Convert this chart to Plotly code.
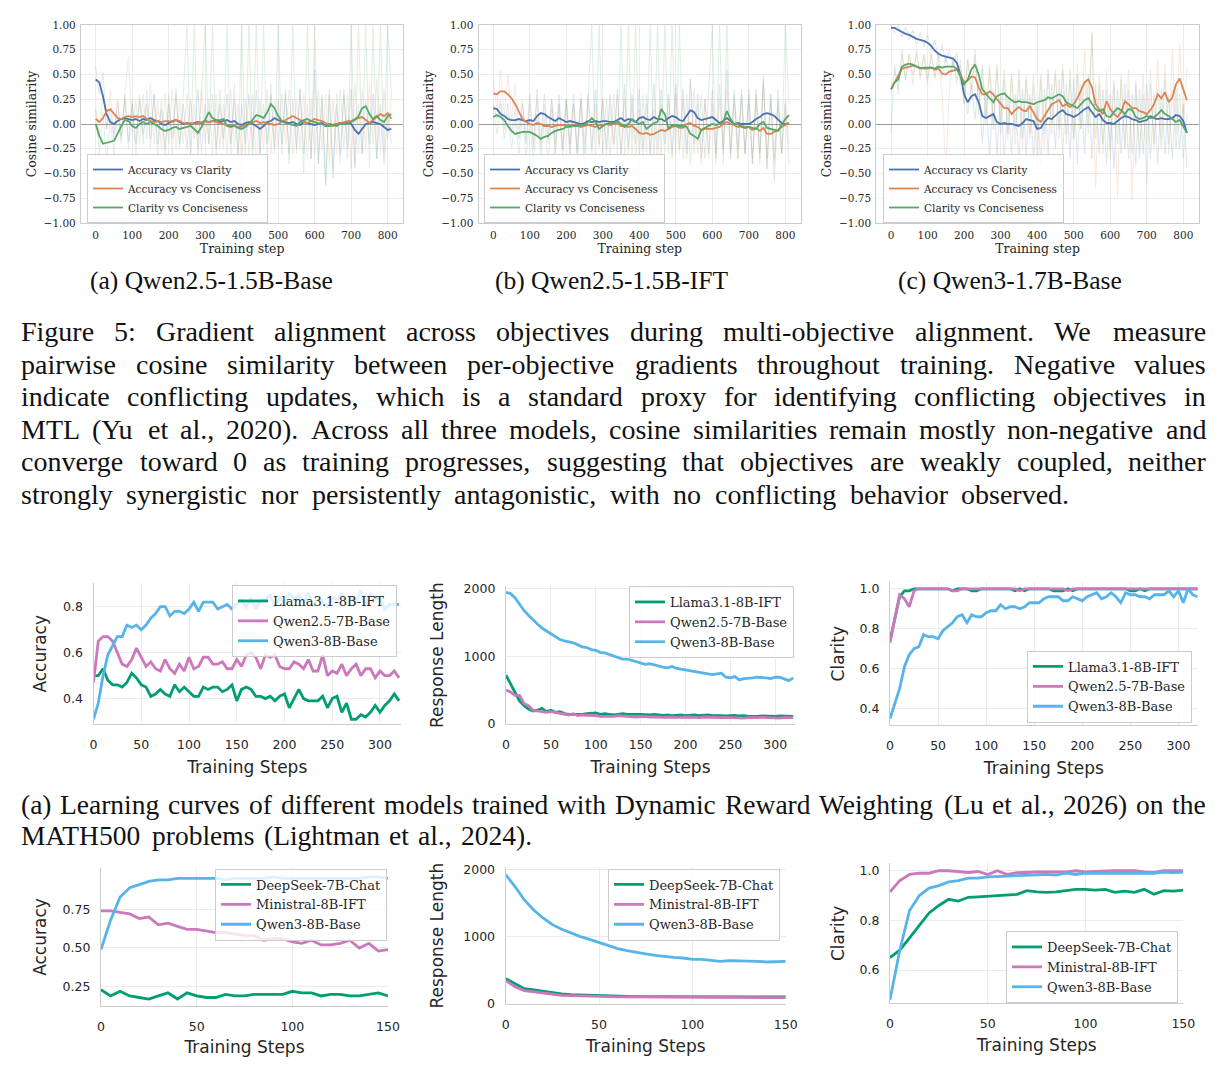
import plotly.graph_objects as go

W, H = 1222, 1076

# ============================ DATA ============================
# ---- Figure 5: gradient cosine similarity (sampled every 10 steps) ----
TOP_PAIR_NAMES = ["Accuracy vs Clarity", "Accuracy vs Conciseness", "Clarity vs Conciseness"]
TOP_PANEL_LABELS = ["(a) Qwen2.5-1.5B-Base", "(b) Qwen2.5-1.5B-IFT", "(c) Qwen3-1.7B-Base"]
TOP_STEP = 10
TOP_XTICKS = [0, 100, 200, 300, 400, 500, 600, 700, 800]
TOP_YTICKS = [-1.0, -0.75, -0.5, -0.25, 0.0, 0.25, 0.5, 0.75, 1.0]

# smoothed curves
base_acc_clar = [0.45, 0.42, 0.28, 0.10, 0.02, 0.00, 0.03, 0.05, 0.06, 0.05,
                 0.04, 0.05, 0.03, 0.05, 0.04, 0.06, 0.04, 0.03, 0.00, -0.01,
                 0.01, 0.03, 0.04, 0.02, 0.00, 0.01, 0.00, 0.01, 0.02, 0.01,
                 0.03, 0.02, 0.03, 0.04, 0.02, 0.03, 0.04, 0.02, 0.03, 0.00,
                 -0.01, 0.01, 0.02, 0.00, -0.02, -0.05, -0.02, 0.02, 0.03, 0.06,
                 0.04, 0.03, 0.02, 0.01, 0.02, 0.00, -0.01, 0.02, 0.01, 0.00,
                 -0.01, 0.00, 0.01, -0.02, 0.00, -0.01, 0.00, 0.01, 0.00, 0.02,
                 0.00, -0.06, -0.10, -0.05, 0.00, 0.01, 0.02, 0.01, 0.00, -0.03,
                 -0.06, -0.05]
base_acc_conc = [0.05, 0.02, 0.06, 0.13, 0.15, 0.10, 0.06, 0.05, 0.07, 0.08,
                 0.07, 0.08, 0.07, 0.08, 0.05, 0.03, 0.02, 0.03, 0.02, 0.03,
                 0.03, 0.02, 0.04, 0.03, 0.01, 0.00, 0.01, 0.00, 0.01, 0.02,
                 0.03, 0.02, 0.03, 0.02, 0.01, 0.00, -0.01, -0.02, -0.02, -0.03,
                 -0.03, -0.01, 0.00, 0.02, 0.03, 0.01, 0.02, 0.00, 0.00, -0.01,
                 0.00, 0.02, 0.04, 0.06, 0.08, 0.06, 0.04, 0.02, 0.01, 0.03,
                 0.05, 0.04, 0.03, 0.01, -0.01, -0.02, 0.00, 0.01, 0.02, 0.03,
                 0.03, 0.05, 0.06, 0.07, 0.04, 0.01, 0.04, 0.07, 0.10, 0.08,
                 0.11, 0.05]
base_clar_conc = [0.00, -0.12, -0.20, -0.19, -0.18, -0.17, -0.10, -0.02, 0.04, 0.03,
                  -0.02, -0.04, 0.00, 0.02, 0.00, 0.02, 0.00, -0.02, -0.05, -0.07,
                  -0.06, -0.04, -0.03, -0.05, -0.04, -0.03, -0.02, -0.05, -0.09, -0.03,
                  0.05, 0.12, 0.06, 0.04, 0.04, 0.05, -0.02, -0.03, -0.02, -0.04,
                  -0.05, -0.03, 0.00, 0.05, 0.09, 0.08, 0.06, 0.12, 0.20, 0.16,
                  0.08, 0.03, 0.01, 0.00, -0.01, -0.02, 0.02, 0.04, 0.05, 0.03,
                  0.02, 0.01, 0.00, -0.02, -0.02, -0.01, -0.02, 0.00, 0.00, 0.01,
                  0.02, 0.04, 0.08, 0.16, 0.18, 0.10, 0.05, 0.08, 0.04, 0.02,
                  0.08, 0.10]
ift_acc_clar = [0.16, 0.15, 0.10, 0.08, 0.05, 0.04, 0.04, 0.05, 0.04, 0.03,
                0.04, 0.03, 0.08, 0.11, 0.10, 0.07, 0.05, 0.03, 0.06, 0.04,
                0.02, 0.03, 0.02, 0.01, 0.00, 0.01, 0.03, 0.02, 0.03, 0.02,
                0.03, 0.03, 0.02, 0.02, 0.04, 0.06, 0.03, 0.05, 0.04, 0.02,
                0.06, 0.07, 0.05, 0.04, 0.07, 0.05, 0.05, 0.03, 0.06, 0.08,
                0.07, 0.04, 0.03, 0.08, 0.14, 0.12, 0.06, 0.04, 0.05, 0.06,
                0.07, 0.04, 0.01, 0.03, 0.06, 0.03, 0.00, 0.01, 0.00, 0.00,
                0.00, 0.02, 0.05, 0.07, 0.10, 0.11, 0.10, 0.08, 0.04, 0.01,
                0.00, 0.01]
ift_acc_conc = [0.31, 0.30, 0.33, 0.33, 0.30, 0.26, 0.20, 0.12, 0.05, 0.02,
                0.00, -0.01, 0.01, 0.00, -0.02, -0.02, -0.03, -0.02, -0.01, -0.01,
                -0.02, -0.02, -0.01, -0.02, -0.03, -0.02, -0.01, -0.02, -0.03, -0.01,
                -0.01, 0.00, -0.01, 0.00, 0.01, -0.02, -0.02, -0.03, -0.02, -0.05,
                -0.09, -0.10, -0.09, -0.11, -0.10, -0.08, -0.06, -0.07, -0.05, -0.03,
                -0.02, -0.04, -0.04, 0.00, 0.01, -0.02, -0.03, -0.06, -0.05, -0.05,
                -0.05, -0.04, -0.03, 0.00, 0.02, 0.00, -0.01, -0.03, -0.02, -0.03,
                -0.03, -0.06, -0.04, -0.07, -0.04, -0.10, -0.10, -0.08, -0.06, -0.03,
                -0.01, 0.01]
ift_clar_conc = [0.07, 0.09, 0.07, 0.04, -0.02, -0.07, -0.10, -0.09, -0.08, -0.08,
                 -0.08, -0.10, -0.12, -0.15, -0.13, -0.12, -0.09, -0.07, -0.06, -0.05,
                 -0.03, -0.03, -0.02, -0.02, -0.01, -0.01, 0.02, 0.06, 0.02, -0.05,
                 -0.02, 0.00, 0.01, 0.01, 0.03, 0.00, -0.03, 0.00, 0.05, 0.02,
                 0.00, 0.02, -0.05, -0.02, 0.01, 0.02, 0.15, 0.10, -0.05, -0.01,
                 -0.02, -0.02, -0.02, -0.03, -0.10, -0.12, -0.15, -0.06, -0.04, -0.02,
                 0.00, -0.01, 0.00, 0.02, 0.13, 0.05, 0.00, 0.00, -0.03, -0.04,
                 -0.03, -0.04, -0.05, 0.00, 0.02, -0.04, -0.05, -0.06, -0.07, -0.01,
                 0.05, 0.09]
q3_acc_clar = [0.97, 0.97, 0.95, 0.93, 0.91, 0.90, 0.88, 0.86, 0.85, 0.84,
               0.82, 0.79, 0.74, 0.71, 0.69, 0.68, 0.67, 0.66, 0.62, 0.50,
               0.30, 0.22, 0.28, 0.30, 0.22, 0.08, 0.06, 0.08, 0.10, 0.02,
               0.00, 0.01, 0.00, 0.00, -0.01, -0.02, 0.01, 0.05, 0.04, 0.03,
               -0.05, -0.04, 0.02, 0.06, 0.05, 0.09, 0.12, 0.14, 0.10, 0.09,
               0.07, 0.09, 0.12, 0.15, 0.17, 0.12, 0.07, 0.10, 0.04, 0.01,
               0.01, 0.00, 0.03, 0.06, 0.08, 0.07, 0.05, 0.04, 0.02, 0.03,
               0.04, 0.08, 0.06, 0.05, 0.06, 0.05, 0.05, 0.06, 0.09, 0.08,
               0.03, -0.09]
q3_acc_conc = [0.35, 0.42, 0.50, 0.56, 0.57, 0.58, 0.59, 0.58, 0.57, 0.56,
               0.56, 0.57, 0.55, 0.56, 0.51, 0.50, 0.53, 0.54, 0.55, 0.50,
               0.42, 0.44, 0.48, 0.47, 0.37, 0.30, 0.30, 0.33, 0.30, 0.25,
               0.20, 0.16, 0.16, 0.10, 0.14, 0.17, 0.14, 0.13, 0.18, 0.12,
               0.05, 0.02, 0.08, 0.15, 0.20, 0.22, 0.24, 0.18, 0.20, 0.17,
               0.20, 0.26, 0.35, 0.42, 0.45, 0.37, 0.20, 0.15, 0.10, 0.23,
               0.15, 0.10, 0.07, 0.12, 0.23, 0.20, 0.16, 0.16, 0.13, 0.12,
               0.10, 0.14, 0.20, 0.30, 0.26, 0.32, 0.22, 0.27, 0.40, 0.46,
               0.36, 0.24]
q3_clar_conc = [0.35, 0.42, 0.45, 0.58, 0.60, 0.61, 0.60, 0.58, 0.56, 0.57,
                0.57, 0.57, 0.56, 0.58, 0.57, 0.58, 0.58, 0.58, 0.56, 0.48,
                0.40, 0.45, 0.55, 0.60, 0.50, 0.35, 0.30, 0.26, 0.22, 0.28,
                0.30, 0.31, 0.27, 0.24, 0.22, 0.23, 0.22, 0.22, 0.21, 0.20,
                0.22, 0.23, 0.24, 0.27, 0.26, 0.28, 0.30, 0.28, 0.22, 0.20,
                0.18, 0.16, 0.20, 0.24, 0.26, 0.20, 0.15, 0.13, 0.15, 0.08,
                0.07, 0.12, 0.16, 0.14, 0.10, 0.15, 0.14, 0.07, 0.05, 0.06,
                0.08, 0.06, 0.07, 0.10, 0.14, 0.10, 0.08, 0.05, 0.02, 0.04,
                -0.02, -0.09]

# raw (unsmoothed) per-step values, faint in the figure
base_acc_clar_raw = [0.58, 0.30, 0.52, -0.05, 0.15, -0.15, 0.22, -0.12, 0.25, -0.18,
                     0.20, -0.20, 0.25, -0.10, 0.20, -0.15, 0.30, -0.20, 0.15, -0.25,
                     0.20, -0.15, 0.30, -0.20, 0.20, -0.25, 0.25, -0.15, 0.35, -0.30,
                     0.20, -0.20, 0.30, -0.25, 0.20, -0.15, 0.30, -0.20, 0.25, -0.30,
                     0.20, -0.20, 0.30, -0.25, 0.35, -0.30, 0.20, -0.20, 0.30, -0.25,
                     0.25, -0.20, 0.30, -0.30, 0.25, -0.25, 0.35, -0.30, 0.20, -0.35,
                     0.55, -0.40, 0.25, -0.62, 0.30, -0.55, 0.20, -0.30, 0.30, -0.25,
                     0.35, -0.45, 0.20, -0.30, 0.25, -0.20, 0.30, -0.35, 0.20, -0.40,
                     0.10, -0.20]
base_acc_conc_raw = [0.15, -0.10, 0.30, -0.05, 0.35, -0.10, 0.25, -0.15, 0.30, 0.68,
                     -0.10, 0.25, -0.20, 0.30, -0.15, 0.40, -0.20, 0.25, -0.25, 0.30,
                     -0.20, 0.35, -0.25, 0.25, -0.20, 0.30, -0.30, 0.20, -0.25, 0.35,
                     -0.20, 0.25, -0.30, 0.30, -0.25, 0.20, -0.30, 0.35, -0.25, 0.20,
                     -0.35, 0.25, -0.30, 0.30, -0.40, 0.25, -0.25, 0.35, -0.30, 0.25,
                     -0.25, 0.30, -0.20, 0.35, -0.30, 0.25, -0.25, 0.30, -0.35, 0.25,
                     -0.30, 0.35, -0.25, 0.30, -0.40, 0.25, -0.30, 0.35, -0.25, 0.30,
                     -0.45, 0.40, -0.30, 0.35, -0.25, 0.40, -0.20, 0.45, -0.30, 0.35,
                     -0.15, 0.30]
base_clar_conc_raw = [0.15, -0.30, 0.10, -0.35, 0.05, -0.30, 0.10, -0.20, 0.30, -0.25,
                      0.25, -0.30, 0.30, -0.20, 0.35, -0.25, 0.30, -0.30, 0.25, -0.35,
                      0.30, -0.30, 0.35, -0.25, 0.30, 1.00, -0.30, 1.00, -0.35, 0.30,
                      1.00, -0.20, 1.00, -0.30, 0.35, -0.25, 1.00, -0.30, 0.40, -0.35,
                      1.00, -0.30, 1.00, -0.35, 1.00, -0.30, 1.00, -0.35, 0.40, -0.30,
                      1.00, -0.30, 0.35, -0.40, 1.00, -0.30, 0.35, -0.50, 1.00, -0.35,
                      1.00, -0.40, 0.30, -0.60, 0.35, -0.45, 0.30, -0.40, 0.35, -0.35,
                      1.00, -0.40, 1.00, -0.30, 1.00, -0.45, 1.00, -0.35, 1.00, -0.30,
                      1.00, 0.30]
ift_acc_clar_raw = [0.20, 0.05, 0.25, -0.05, 0.20, -0.10, 0.15, -0.15, 0.20, -0.20,
                    0.30, -0.25, 0.35, -0.20, 0.30, -0.15, 0.25, -0.20, 0.30, -0.25,
                    0.25, -0.20, 0.30, -0.30, 0.25, -0.50, 0.30, -0.25, 0.35, -0.20,
                    0.25, -0.25, 0.30, -0.20, 0.35, -0.30, 0.40, -0.25, 0.30, -0.20,
                    0.35, -0.25, 0.30, -0.30, 0.40, -0.25, 0.35, -0.20, 0.30, -0.30,
                    0.40, -0.25, 0.35, -0.30, 0.45, -0.20, 0.30, -0.35, 0.25, -0.30,
                    0.35, -0.30, 0.40, -0.25, 0.55, -0.35, 0.30, -0.25, 0.35, -0.30,
                    0.30, -0.40, 0.35, -0.30, 0.45, -0.35, 0.30, -0.58, 0.25, -0.30,
                    0.20, -0.40]
ift_acc_conc_raw = [0.45, 0.15, 0.55, 0.10, 0.50, 0.05, 0.40, -0.05, 0.25, -0.15,
                    0.20, -0.20, 0.25, -0.25, 0.20, -0.20, 0.25, -0.30, 0.20, -0.25,
                    0.25, -0.30, 0.20, -0.25, 0.30, -0.20, 0.25, -0.30, 0.20, -0.25,
                    0.25, -0.30, 0.20, -0.25, 0.30, -0.35, 0.25, -0.30, 0.20, -0.35,
                    0.15, -0.35, 0.20, -0.30, 0.15, -0.40, 0.20, -0.30, 0.25, -0.35,
                    0.30, -0.30, 0.25, -0.35, 0.45, -0.30, 0.20, -0.40, 0.25, -0.35,
                    0.20, -0.40, 0.25, -0.30, 0.35, -0.30, 0.20, -0.35, 0.25, -0.30,
                    0.20, -0.35, 0.25, -0.40, 0.50, -0.45, 0.25, -0.35, 0.20, -0.30,
                    0.25, -0.20]
ift_clar_conc_raw = [0.15, -0.10, 0.20, -0.15, 0.10, -0.25, 0.05, -0.30, 0.10, -0.35,
                     0.05, -0.40, 0.10, -0.35, 0.05, -0.40, 0.15, -0.30, 0.20, -0.35,
                     0.25, -0.30, 0.20, -0.35, 0.25, -0.30, 0.30, 1.00, -0.40, 1.00,
                     -0.30, 0.25, -0.35, 0.30, -0.30, 1.00, -0.35, 1.00, -0.30, 1.00,
                     -0.35, 0.30, -0.30, 1.00, -0.40, 1.00, -0.35, 1.00, -0.30, 1.00,
                     -0.30, 1.00, -0.35, 0.30, -0.40, 0.35, -0.30, 0.30, -0.35, 0.40,
                     1.00, -0.35, 1.00, -0.40, 1.00, -0.30, 0.35, -0.35, 0.30, -0.30,
                     0.35, -0.40, 0.30, -0.35, 0.40, -0.45, 0.30, -0.40, 0.35, -0.30,
                     1.00, 0.20]
q3_acc_clar_raw = [1.00, 0.92, 1.00, 0.88, 0.98, 0.85, 0.95, 0.80, 0.92, 0.78,
                   0.90, 0.75, 0.85, 0.65, 0.80, 0.62, 0.75, 0.58, 0.72, 0.40,
                   0.45, 0.10, 0.40, 0.05, 0.45, -0.20, 0.30, -0.35, 0.35, -0.30,
                   0.30, -0.35, 0.25, -0.30, 0.30, -0.40, 0.35, -0.30, 0.30, -0.35,
                   0.20, -0.40, 0.35, -0.30, 0.40, -0.25, 0.45, -0.30, 0.40, -0.35,
                   0.45, -0.40, 0.40, -0.30, 0.50, -0.35, 0.40, -0.30, 0.35, -0.40,
                   0.30, -0.45, 0.35, -0.30, 0.40, -0.35, 0.30, -0.40, 0.35, -0.30,
                   0.40, -0.35, 0.30, -0.40, 0.35, -0.30, 0.30, -0.35, 0.35, -0.25,
                   0.20, -0.45]
q3_acc_conc_raw = [0.30, 0.55, 0.35, 0.70, 0.45, 0.72, 0.40, 0.75, 0.45, 0.70,
                   0.40, 0.72, 0.45, 0.65, 0.30, -0.45, 0.35, 0.65, 0.40, 0.65,
                   0.20, 0.65, 0.25, 0.70, 0.20, 0.55, 0.05, 0.60, 0.00, 0.55,
                   -0.10, 0.45, -0.15, 0.50, -0.20, 0.45, -0.25, 0.50, -0.15, 0.40,
                   -0.35, 0.45, -0.25, 0.50, -0.10, 0.55, -0.15, 0.60, -0.20, 0.55,
                   -0.15, 0.60, -0.05, 0.75, 0.00, 0.93, -0.65, 0.50, -0.30, 0.55,
                   -0.35, 0.45, -0.75, 0.50, -0.25, 0.55, -0.76, 0.45, -0.30, 0.50,
                   -0.20, 0.55, -0.25, 0.65, -0.15, 0.60, -0.20, 0.75, -0.10, 0.80,
                   0.00, 0.55]
q3_clar_conc_raw = [-0.10, 0.60, 0.30, 0.75, 0.45, 0.70, 0.50, 0.72, 0.48, 0.70,
                    0.45, 0.70, 0.48, 0.72, 0.45, 0.70, 0.48, 0.65, 0.45, 0.60,
                    0.20, 0.65, 0.35, 0.75, 0.10, 0.60, 0.00, 0.55, -0.05, 0.60,
                    0.00, 0.55, -0.10, 0.50, -0.05, 0.55, -0.15, 0.45, -0.10, 0.50,
                    -0.05, 0.50, -0.10, 0.55, 0.00, 0.50, -0.05, 0.55, -0.10, 0.45,
                    -0.15, 0.50, -0.05, 0.45, -0.10, 0.90, -0.15, 0.40, -0.20, 0.35,
                    -0.25, 0.40, -0.20, 0.45, -0.25, 0.35, -0.30, 0.40, -0.35, 0.30,
                    -0.60, 0.40, -0.20, 0.35, -0.25, 0.45, -0.30, 0.35, -0.25, 0.30,
                    -0.35, 0.10]

# ---- Learning curves (sampled every 5 steps) ----
CURVE_STEP = 5
MODELS_A = ["Llama3.1-8B-IFT", "Qwen2.5-7B-Base", "Qwen3-8B-Base"]
MODELS_B = ["DeepSeek-7B-Chat", "Ministral-8B-IFT", "Qwen3-8B-Base"]
X_TICKS_A = [0, 50, 100, 150, 200, 250, 300]
X_TICKS_B = [0, 50, 100, 150]

acc_a_llama = [0.50, 0.50, 0.53, 0.48, 0.46, 0.46, 0.45, 0.47, 0.51, 0.49,
               0.46, 0.45, 0.41, 0.42, 0.44, 0.42, 0.41, 0.46, 0.43, 0.45,
               0.43, 0.41, 0.41, 0.45, 0.44, 0.45, 0.45, 0.43, 0.44, 0.46,
               0.39, 0.44, 0.45, 0.44, 0.41, 0.41, 0.40, 0.41, 0.39, 0.41,
               0.42, 0.36, 0.40, 0.44, 0.40, 0.39, 0.39, 0.39, 0.41, 0.36,
               0.40, 0.41, 0.34, 0.38, 0.31, 0.31, 0.33, 0.32, 0.34, 0.37,
               0.34, 0.37, 0.39, 0.42, 0.39]
acc_a_qwen25 = [0.47, 0.65, 0.67, 0.67, 0.65, 0.60, 0.55, 0.54, 0.57, 0.62,
                0.58, 0.54, 0.56, 0.53, 0.52, 0.57, 0.53, 0.51, 0.55, 0.52,
                0.58, 0.53, 0.54, 0.58, 0.58, 0.55, 0.55, 0.56, 0.53, 0.53,
                0.57, 0.54, 0.59, 0.60, 0.58, 0.53, 0.59, 0.58, 0.59, 0.54,
                0.53, 0.53, 0.56, 0.55, 0.53, 0.57, 0.52, 0.52, 0.59, 0.50,
                0.52, 0.51, 0.55, 0.50, 0.53, 0.55, 0.50, 0.53, 0.53, 0.49,
                0.52, 0.50, 0.50, 0.52, 0.49]
acc_a_qwen3 = [0.31, 0.38, 0.50, 0.59, 0.63, 0.67, 0.67, 0.72, 0.71, 0.72,
               0.70, 0.72, 0.75, 0.77, 0.80, 0.80, 0.76, 0.78, 0.78, 0.77,
               0.79, 0.82, 0.78, 0.82, 0.82, 0.82, 0.79, 0.80, 0.81, 0.79,
               0.81, 0.83, 0.80, 0.84, 0.79, 0.83, 0.83, 0.85, 0.80, 0.84,
               0.81, 0.86, 0.83, 0.85, 0.82, 0.86, 0.80, 0.84, 0.82, 0.80,
               0.84, 0.83, 0.86, 0.81, 0.84, 0.82, 0.87, 0.80, 0.86, 0.83,
               0.84, 0.79, 0.81, 0.81, 0.81]
len_a_llama = [720, 600, 470, 340, 270, 220, 190, 200, 230, 180,
               200, 170, 180, 150, 140, 140, 130, 140, 150, 150,
               160, 140, 150, 140, 130, 140, 150, 140, 135, 140,
               140, 135, 130, 140, 130, 125, 130, 120, 125, 130,
               120, 125, 130, 120, 125, 130, 120, 125, 120, 115,
               120, 125, 115, 120, 110, 105, 110, 115, 110, 115,
               110, 115, 110, 115, 110]
len_a_qwen25 = [500, 470, 420, 420, 300, 270, 200, 190, 180, 170,
                180, 170, 160, 140, 130, 150, 120, 130, 130, 120,
                120, 110, 110, 100, 110, 120, 115, 105, 110, 100,
                105, 110, 100, 105, 100, 95, 100, 100, 95, 100,
                95, 100, 95, 90, 100, 95, 90, 95, 90, 95,
                90, 95, 90, 85, 90, 85, 90, 95, 90, 85,
                90, 85, 90, 85, 90]
len_a_qwen3 = [1950, 1930, 1870, 1780, 1680, 1610, 1540, 1480, 1420, 1380,
               1330, 1290, 1250, 1230, 1220, 1200, 1170, 1140, 1130, 1100,
               1090, 1060, 1050, 1030, 1000, 980, 960, 960, 940, 920,
               900, 880, 890, 870, 850, 840, 830, 850, 820, 810,
               790, 790, 770, 760, 760, 740, 730, 740, 750, 690,
               680, 700, 650, 670, 670, 680, 690, 690, 680, 670,
               690, 690, 670, 640, 680]
clar_a_llama = [0.74, 0.85, 0.96, 0.99, 0.99, 1.0, 1.0, 1.0, 1.0, 1.0,
                1.0, 1.0, 1.0, 0.99, 1.0, 1.0, 1.0, 0.99, 0.99, 1.0,
                1.0, 1.0, 1.0, 1.0, 1.0, 1.0, 0.99, 1.0, 0.99, 1.0,
                1.0, 1.0, 1.0, 1.0, 0.99, 0.99, 0.99, 1.0, 0.99, 1.0,
                1.0, 1.0, 1.0, 1.0, 1.0, 1.0, 1.0, 1.0, 1.0, 1.0,
                0.99, 0.99, 1.0, 0.99, 1.0, 1.0, 1.0, 1.0, 1.0, 1.0,
                1.0, 1.0, 1.0, 1.0, 1.0]
clar_a_qwen25 = [0.73, 0.86, 0.97, 0.95, 0.91, 0.99, 1.0, 1.0, 1.0, 1.0,
                 1.0, 1.0, 1.0, 0.99, 0.99, 1.0, 1.0, 1.0, 1.0, 1.0,
                 1.0, 1.0, 1.0, 1.0, 1.0, 1.0, 1.0, 0.99, 1.0, 1.0,
                 1.0, 1.0, 1.0, 1.0, 1.0, 1.0, 1.0, 0.99, 1.0, 1.0,
                 1.0, 1.0, 1.0, 1.0, 1.0, 1.0, 1.0, 1.0, 1.0, 1.0,
                 1.0, 1.0, 1.0, 1.0, 1.0, 1.0, 1.0, 1.0, 1.0, 1.0,
                 1.0, 1.0, 1.0, 1.0, 1.0]
clar_a_qwen3 = [0.35, 0.42, 0.50, 0.61, 0.67, 0.70, 0.71, 0.77, 0.76, 0.76,
                0.75, 0.79, 0.81, 0.83, 0.86, 0.87, 0.83, 0.87, 0.86, 0.86,
                0.88, 0.89, 0.89, 0.92, 0.90, 0.91, 0.91, 0.90, 0.91, 0.93,
                0.93, 0.93, 0.95, 0.96, 0.96, 0.96, 0.94, 0.94, 0.96, 0.95,
                0.94, 0.96, 0.97, 0.98, 0.95, 0.96, 0.98, 0.96, 0.93, 0.98,
                0.97, 0.97, 0.96, 0.96, 0.95, 0.97, 0.97, 0.97, 0.99, 0.96,
                0.99, 0.93, 1.00, 0.97, 0.96]

acc_b_deepseek = [0.23, 0.19, 0.22, 0.19, 0.18, 0.17, 0.19, 0.21, 0.17, 0.21,
                  0.19, 0.18, 0.18, 0.20, 0.19, 0.19, 0.20, 0.20, 0.20, 0.20,
                  0.22, 0.21, 0.21, 0.19, 0.20, 0.20, 0.19, 0.19, 0.20, 0.21,
                  0.19]
acc_b_ministral = [0.74, 0.74, 0.73, 0.72, 0.69, 0.70, 0.65, 0.66, 0.64, 0.62,
                   0.62, 0.61, 0.60, 0.60, 0.59, 0.58, 0.58, 0.55, 0.56, 0.56,
                   0.54, 0.53, 0.55, 0.52, 0.52, 0.53, 0.55, 0.50, 0.53, 0.48,
                   0.49]
acc_b_qwen3 = [0.49, 0.68, 0.83, 0.89, 0.91, 0.93, 0.94, 0.94, 0.95, 0.95,
               0.95, 0.95, 0.95, 0.94, 0.95, 0.95, 0.95, 0.95, 0.96, 0.95,
               0.95, 0.95, 0.95, 0.95, 0.95, 0.95, 0.95, 0.95, 0.96, 0.96,
               0.95]
len_b_deepseek = [370, 300, 220, 200, 180, 150, 140, 130, 125, 120,
                  110, 108, 105, 103, 100, 100, 100, 100, 100, 100,
                  100, 100, 100, 98, 98, 98, 98, 98, 98, 98,
                  98]
len_b_ministral = [340, 250, 190, 170, 150, 130, 120, 115, 110, 105,
                   100, 100, 98, 97, 96, 95, 95, 94, 93, 92,
                   92, 91, 90, 90, 89, 88, 88, 87, 86, 86,
                   85]
len_b_qwen3 = [1930, 1750, 1550, 1400, 1280, 1180, 1110, 1050, 1000, 960,
               910, 860, 820, 790, 760, 740, 720, 700, 690, 680,
               660, 660, 650, 630, 640, 640, 630, 630, 620, 630,
               630]
clar_b_deepseek = [0.65, 0.68, 0.73, 0.78, 0.83, 0.86, 0.885, 0.878, 0.893, 0.895,
                   0.897, 0.90, 0.903, 0.905, 0.92, 0.915, 0.913, 0.915, 0.92, 0.925,
                   0.925, 0.922, 0.925, 0.913, 0.918, 0.913, 0.925, 0.905, 0.92, 0.918,
                   0.922]
clar_b_ministral = [0.915, 0.96, 0.985, 0.99, 0.99, 1.0, 1.0, 0.995, 0.993, 0.997,
                    0.985, 1.0, 0.985, 0.992, 0.995, 0.995, 0.995, 0.995, 0.995, 1.0,
                    0.995, 0.997, 1.0, 1.0, 1.0, 1.0, 0.995, 0.993, 1.0, 1.0,
                    1.0]
clar_b_qwen3 = [0.48, 0.68, 0.84, 0.90, 0.93, 0.94, 0.955, 0.96, 0.97, 0.97,
                0.975, 0.975, 0.978, 0.98, 0.98, 0.983, 0.985, 0.982, 0.99, 0.985,
                0.99, 0.99, 0.988, 0.99, 0.988, 0.99, 0.99, 0.99, 0.995, 0.993,
                0.995]

# ---- text ----
FIG5_CAPTION = [
    "Figure 5: Gradient alignment across objectives during multi-objective alignment. We measure",
    "pairwise cosine similarity between per-objective gradients throughout training. Negative values",
    "indicate conflicting updates, which is a standard proxy for identifying conflicting objectives in",
    "MTL (Yu et al., 2020). Across all three models, cosine similarities remain mostly non-negative and",
    "converge toward 0 as training progresses, suggesting that objectives are weakly coupled, neither",
    "strongly synergistic nor persistently antagonistic, with no conflicting behavior observed.",
]
SUBFIG_A_CAPTION = [
    "(a) Learning curves of different models trained with Dynamic Reward Weighting (Lu et al., 2026) on the",
    "MATH500 problems (Lightman et al., 2024).",
]

# ============================ STYLE ============================
TOP_COLORS = ["#4C72B0", "#DD8452", "#55A868"]
MODEL_COLORS = ["#029E73", "#CC78BC", "#56B4E9"]
INK = "#262626"
SERIF_PLOT = "DejaVu Serif"
SANS_PLOT = "DejaVu Sans"
TEXT_FONT = "Liberation Serif"


def px_x(l, r):
    return [l / W, r / W]


def px_y(t, b):
    return [1 - b / H, 1 - t / H]


def ax_keys(i):
    s = "" if i == 1 else str(i)
    return "x" + s, "y" + s, "xaxis" + s, "yaxis" + s, "legend" + s


fig = go.Figure()
layout = dict(
    width=W, height=H, margin=dict(l=0, r=0, t=0, b=0),
    paper_bgcolor="white", plot_bgcolor="white", template="none",
    hovermode=False, showlegend=True,
)

# ---------------- top row: cosine similarity ----------------
top_panels = [
    dict(smooth=[base_acc_clar, base_acc_conc, base_clar_conc],
         raw=[base_acc_clar_raw, base_acc_conc_raw, base_clar_conc_raw],
         xpx=(80.9, 403.4), leg=(87, 154), cap_x=212),
    dict(smooth=[ift_acc_clar, ift_acc_conc, ift_clar_conc],
         raw=[ift_acc_clar_raw, ift_acc_conc_raw, ift_clar_conc_raw],
         xpx=(478.5, 801.0), leg=(484, 154), cap_x=611),
    dict(smooth=[q3_acc_clar, q3_acc_conc, q3_clar_conc],
         raw=[q3_acc_clar_raw, q3_acc_conc_raw, q3_clar_conc_raw],
         xpx=(876.2, 1199.0), leg=(883, 154), cap_x=1010),
]

for k, p in enumerate(top_panels):
    i = k + 1
    xa, ya, xk, yk, lk = ax_keys(i)
    for s, series in enumerate(p["raw"]):
        fig.add_trace(go.Scatter(
            x=[TOP_STEP * j for j in range(len(series))], y=series, mode="lines",
            line=dict(color=TOP_COLORS[s], width=0.9), opacity=0.2,
            showlegend=False, hoverinfo="skip", xaxis=xa, yaxis=ya))
    for s, series in enumerate(p["smooth"]):
        fig.add_trace(go.Scatter(
            x=[TOP_STEP * j for j in range(len(series))], y=series, mode="lines",
            name=TOP_PAIR_NAMES[s], line=dict(color=TOP_COLORS[s], width=1.8),
            xaxis=xa, yaxis=ya, legend=lk))
    layout[xk] = dict(
        domain=px_x(*p["xpx"]), anchor=ya, range=[-40.5, 843],
        tickvals=TOP_XTICKS, tickformat="d", ticks="", ticklabelstandoff=2,
        tickfont=dict(family=SERIF_PLOT, size=10.5, color=INK),
        showgrid=True, gridcolor="#ececec", gridwidth=1, zeroline=False,
        showline=True, mirror=True, linecolor="#cccccc", linewidth=1,
        automargin=False,
        title=dict(text="Training step", standoff=3,
                   font=dict(family=SERIF_PLOT, size=12.5, color=INK)))
    layout[yk] = dict(
        domain=px_y(25, 223), anchor=xa, range=[-1, 1],
        tickvals=TOP_YTICKS, tickformat=".2f", ticks="", ticklabelstandoff=2,
        tickfont=dict(family=SERIF_PLOT, size=10.5, color=INK),
        showgrid=True, gridcolor="#ececec", gridwidth=1,
        zeroline=True, zerolinecolor="#9a9a9a", zerolinewidth=1.2,
        showline=True, mirror=True, linecolor="#cccccc", linewidth=1,
        automargin=False,
        title=dict(text="Cosine similarity", standoff=4,
                   font=dict(family=SERIF_PLOT, size=12.5, color=INK)))
    layout[lk] = dict(
        x=p["leg"][0] / W, y=1 - p["leg"][1] / H, xanchor="left", yanchor="top",
        xref="paper", yref="paper",
        bgcolor="rgba(255,255,255,0.8)", bordercolor="#cccccc", borderwidth=1,
        font=dict(family=SERIF_PLOT, size=10.5, color=INK),
        itemwidth=30, tracegroupgap=0)

# ---------------- learning curves ----------------
bottom_panels = [
    dict(series=[acc_a_llama, acc_a_qwen25, acc_a_qwen3], names=MODELS_A,
         xpx=(93.5, 401), ypx=(583.3, 724.3), xr=[0, 322], yr=[0.288, 0.902],
         xt=X_TICKS_A, yt=[0.4, 0.6, 0.8], fmt=".1f", ytitle="Accuracy", ysoff=12,
         xsoff=9, leg=(232, 585)),
    dict(series=[len_a_llama, len_a_qwen25, len_a_qwen3], names=MODELS_A,
         xpx=(506, 795), ypx=(586, 724.3), xr=[0, 322], yr=[-8, 2043],
         xt=X_TICKS_A, yt=[0, 1000, 2000], fmt="d", ytitle="Response Length", ysoff=15,
         xsoff=9, leg=(629, 586)),
    dict(series=[clar_a_llama, clar_a_qwen25, clar_a_qwen3], names=MODELS_A,
         xpx=(890, 1197.7), ypx=(582.3, 725), xr=[0, 320], yr=[0.3175, 1.0325],
         xt=X_TICKS_A, yt=[0.4, 0.6, 0.8, 1.0], fmt=".1f", ytitle="Clarity", ysoff=10,
         xsoff=9, leg=(1027, 650.5)),
    dict(series=[acc_b_deepseek, acc_b_ministral, acc_b_qwen3], names=MODELS_B,
         xpx=(101, 388), ypx=(868.3, 1005.7), xr=[0, 150], yr=[0.127, 1.015],
         xt=X_TICKS_B, yt=[0.25, 0.5, 0.75], fmt=".2f", ytitle="Accuracy", ysoff=11,
         xsoff=8, leg=(215, 868.5)),
    dict(series=[len_b_deepseek, len_b_ministral, len_b_qwen3], names=MODELS_B,
         xpx=(505.7, 785.7), ypx=(867.3, 1004), xr=[0, 150], yr=[-10, 2040],
         xt=X_TICKS_B, yt=[0, 1000, 2000], fmt="d", ytitle="Response Length", ysoff=15,
         xsoff=8, leg=(608, 868.5)),
    dict(series=[clar_b_deepseek, clar_b_ministral, clar_b_qwen3], names=MODELS_B,
         xpx=(890, 1183.3), ypx=(863.3, 1003.3), xr=[0, 150], yr=[0.466, 1.03],
         xt=X_TICKS_B, yt=[0.6, 0.8, 1.0], fmt=".1f", ytitle="Clarity", ysoff=10,
         xsoff=8, leg=(1006, 931)),
]

for k, p in enumerate(bottom_panels):
    i = k + 4
    xa, ya, xk, yk, lk = ax_keys(i)
    for s, series in enumerate(p["series"]):
        fig.add_trace(go.Scatter(
            x=[CURVE_STEP * j for j in range(len(series))], y=series, mode="lines",
            name=p["names"][s], line=dict(color=MODEL_COLORS[s], width=2.8),
            xaxis=xa, yaxis=ya, legend=lk))
    layout[xk] = dict(
        domain=px_x(*p["xpx"]), anchor=ya, range=p["xr"],
        tickvals=p["xt"], tickformat="d", ticks="", ticklabelstandoff=9,
        tickfont=dict(family=SANS_PLOT, size=12.5, color=INK),
        showgrid=True, gridcolor="#ebebeb", gridwidth=1, zeroline=False,
        showline=True, mirror=False, linecolor="#cccccc", linewidth=1.3,
        automargin=False,
        title=dict(text="Training Steps", standoff=p["xsoff"],
                   font=dict(family=SANS_PLOT, size=17, color=INK)))
    layout[yk] = dict(
        domain=px_y(*p["ypx"]), anchor=xa, range=p["yr"],
        tickvals=p["yt"], tickformat=p["fmt"], ticks="", ticklabelstandoff=7,
        tickfont=dict(family=SANS_PLOT, size=12.5, color=INK),
        showgrid=True, gridcolor="#ebebeb", gridwidth=1, zeroline=False,
        showline=True, mirror=False, linecolor="#cccccc", linewidth=1.3,
        automargin=False,
        title=dict(text=p["ytitle"], standoff=p["ysoff"],
                   font=dict(family=SANS_PLOT, size=17, color=INK)))
    layout[lk] = dict(
        x=p["leg"][0] / W, y=1 - p["leg"][1] / H, xanchor="left", yanchor="top",
        xref="paper", yref="paper",
        bgcolor="rgba(255,255,255,0.8)", bordercolor="#cccccc", borderwidth=1,
        font=dict(family=SERIF_PLOT, size=13, color=INK),
        itemwidth=30, tracegroupgap=0)

# ---------------- text (captions) ----------------
TIMES_W = {}
for chars, w in [("0123456789bdghknopquvxy_*$#", 500), ("acez?", 444),
                 ("ijlt/:;\\", 278), ("fr()-[]I'`", 333), ("sJ", 389),
                 (" ,.", 250), ("ADGHKNOQUVXYw", 722), ("BCR", 667),
                 ("ELTZ", 611), ("FPS", 556), ("M", 889), ("W", 944),
                 ("m&", 778), ("%", 833), ("@", 921), ("+<=>", 564), ('"', 408)]:
    for c in chars:
        TIMES_W[c] = w


def text_w(s, size):
    return sum(TIMES_W.get(c, 500) for c in s) * size / 1000.0


annotations = []
ASC_MID = 0.3375  # (ascent - descent)/2 for Liberation Serif


def place_line(text, baseline, size, x0, x1):
    words = text.split(" ")
    widths = [text_w(w, size) for w in words]
    gap = (x1 - x0 - sum(widths)) / max(len(words) - 1, 1)
    gap = max(gap, 0.2 * size)
    x = x0
    yc = baseline - ASC_MID * size
    for w, wd in zip(words, widths):
        annotations.append(dict(
            text=w, x=x / W, y=1 - yc / H, xref="paper", yref="paper",
            xanchor="left", yanchor="middle", showarrow=False, borderpad=0,
            font=dict(family=TEXT_FONT, size=size, color="#111111")))
        x += wd + gap


# sub-figure labels of Figure 5
for p, label in zip(top_panels, TOP_PANEL_LABELS):
    sz = 25.5
    annotations.append(dict(
        text=label, x=p["cap_x"] / W, y=1 - (289.5 - ASC_MID * sz) / H,
        xref="paper", yref="paper", xanchor="center", yanchor="middle",
        showarrow=False, borderpad=0,
        font=dict(family=TEXT_FONT, size=sz, color="#111111")))

para_baselines = [341, 373.5, 406, 438.5, 471, 503.5]
para_right = [1205, 1205, 1205, 1205, 1205, 1068]
for line, b, r in zip(FIG5_CAPTION, para_baselines, para_right):
    place_line(line, b, 28, 20, r)

cap_baselines = [813.5, 844.5]
cap_right = [1205, 531]
for line, b, r in zip(SUBFIG_A_CAPTION, cap_baselines, cap_right):
    place_line(line, b, 27.5, 20, r)

layout["annotations"] = annotations
fig.update_layout(**layout)
fig.write_html("out.html")
